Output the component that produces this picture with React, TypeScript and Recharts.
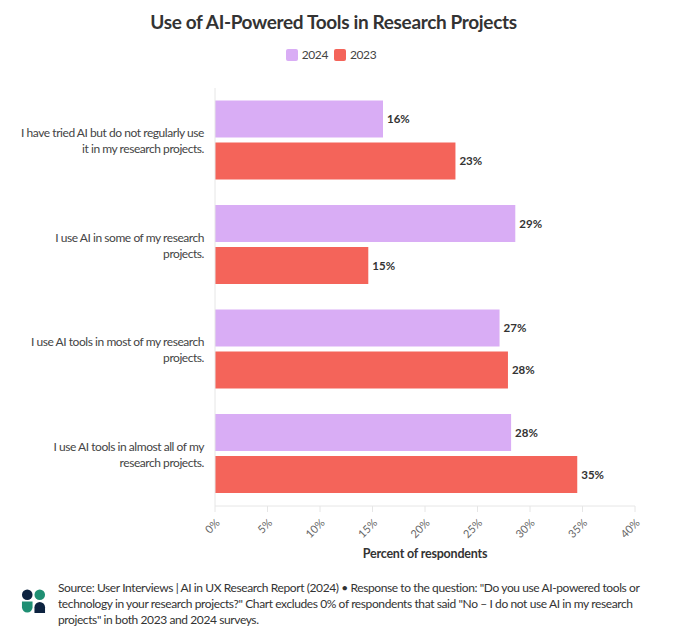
import React from "react";
import { BarChart, Bar, XAxis, YAxis, LabelList } from "recharts";

const categories = [
  "I have tried AI but do not regularly use it in my research projects.",
  "I use AI in some of my research projects.",
  "I use AI tools in most of my research projects.",
  "I use AI tools in almost all of my research projects.",
];
const values2024 = [16, 28.6, 27.1, 28.2];
const values2023 = [22.9, 14.6, 27.9, 34.5];
const xTicks = [0, 5, 10, 15, 20, 25, 30, 35, 40];
const footerLines = [
  'Source: User Interviews | AI in UX Research Report (2024) • Response to the question: "Do you use AI-powered tools or',
  'technology in your research projects?" Chart excludes 0% of respondents that said "No – I do not use AI in my research',
  'projects" in both 2023 and 2024 surveys.',
];

const data = categories.map((c, i) => ({ category: c, y2024: values2024[i], y2023: values2023[i] }));

const FONT = "Lato, 'Open Sans', sans-serif";
const C2024 = "#d9adf5";
const C2023 = "#f4645a";

function wrap(text: string, max: number): string[] {
  const words = text.split(" ");
  const lines: string[] = [];
  let cur = "";
  for (const w of words) {
    const t = cur ? cur + " " + w : w;
    if (t.length > max && cur) {
      lines.push(cur);
      cur = w;
    } else cur = t;
  }
  if (cur) lines.push(cur);
  return lines;
}

const YTick = (props: any) => {
  const { x, y, payload } = props;
  const lines = wrap(payload.value, 40);
  const lh = 16;
  const start = y - ((lines.length - 1) * lh) / 2;
  return (
    <text x={x - 3} y={start} textAnchor="end" fontSize={12} letterSpacing={-0.45} fill="#444" fontFamily={FONT} dominantBaseline="central">
      {lines.map((l, i) => (
        <tspan key={i} x={x - 3} y={start + i * lh}>
          {l}
        </tspan>
      ))}
    </text>
  );
};

const XTick = (props: any) => {
  const { x, y, payload } = props;
  return (
    <g transform={`translate(${x},${y + 4})`}>
      <text x={0} y={0} textAnchor="end" fontSize={11} fill="#666" fontFamily={FONT} transform="rotate(-45)" dy="0.7em">
        {payload.value}%
      </text>
    </g>
  );
};

const Logo = () => (
  <svg width={25} height={25} viewBox="0 0 26 26">
    <circle cx={6.5} cy={6} r={5.5} fill="#0d2340" />
    <circle cx={19.5} cy={6} r={5.5} fill="#1f8f73" />
    <path d="M1 13 h11 v6 a5.5 5.5 0 0 1 -11 0 z" fill="#1f8f73" />
    <path d="M14 25 v-6 a5.5 5.5 0 0 1 11 0 v6 z" fill="#0d2340" />
  </svg>
);

const fmt = (v: any) => `${Math.round(Number(v))}%`;

export default function App() {
  return (
    <div style={{ position: "absolute", left: 0, top: 0, width: 680, height: 644, background: "#fff", fontFamily: FONT }}>
      <div style={{ position: "absolute", top: 10, left: 0, width: 667, textAlign: "center", fontSize: 19, letterSpacing: -0.35, fontWeight: 700, color: "#333" }}>
        Use of AI-Powered Tools in Research Projects
      </div>
      <div style={{ position: "absolute", top: 47, left: 0, width: 662, display: "flex", justifyContent: "center", alignItems: "center", fontSize: 12, letterSpacing: -0.4, color: "#444" }}>
        <span style={{ width: 12, height: 12, borderRadius: 2, background: C2024, display: "inline-block", marginRight: 4 }} />
        <span style={{ marginRight: 6 }}>2024</span>
        <span style={{ width: 12, height: 12, borderRadius: 2, background: C2023, display: "inline-block", marginRight: 4 }} />
        <span>2023</span>
      </div>
      <div style={{ position: "absolute", left: 0, top: 0 }}>
        <BarChart
          width={680}
          height={644}
          data={data}
          layout="vertical"
          margin={{ top: 88, right: 45, bottom: 78, left: 0 }}
          barCategoryGap="12%"
          barGap={5}
        >
          <XAxis
            type="number"
            domain={[0, 40]}
            ticks={xTicks}
            tick={<XTick />}
            tickLine={{ stroke: "#e6e6e6" }}
            axisLine={{ stroke: "#e6e6e6" }}
            height={60}
            interval={0}
          />
          <YAxis
            type="category"
            dataKey="category"
            width={215}
            tick={<YTick />}
            tickLine={false}
            axisLine={{ stroke: "#e6e6e6" }}
            interval={0}
          />
          <Bar dataKey="y2024" fill={C2024} isAnimationActive={false}>
            <LabelList dataKey="y2024" position="right" offset={4} formatter={fmt} style={{ fontSize: 11.5, fontWeight: 700, fill: "#333", fontFamily: FONT }} />
          </Bar>
          <Bar dataKey="y2023" fill={C2023} isAnimationActive={false}>
            <LabelList dataKey="y2023" position="right" offset={4} formatter={fmt} style={{ fontSize: 11.5, fontWeight: 700, fill: "#333", fontFamily: FONT }} />
          </Bar>
        </BarChart>
      </div>
      <div style={{ position: "absolute", top: 546, left: 215, width: 420, textAlign: "center", fontSize: 12.5, letterSpacing: -0.2, fontWeight: 700, color: "#333" }}>
        Percent of respondents
      </div>
      <div style={{ position: "absolute", top: 589, left: 21 }}>
        <Logo />
      </div>
      <div style={{ position: "absolute", top: 580, left: 58, width: 615, fontSize: 12, letterSpacing: -0.4, lineHeight: "16px", color: "#333", whiteSpace: "nowrap" }}>
        {footerLines.map((l, i) => (
          <div key={i}>{l}</div>
        ))}
      </div>
    </div>
  );
}
